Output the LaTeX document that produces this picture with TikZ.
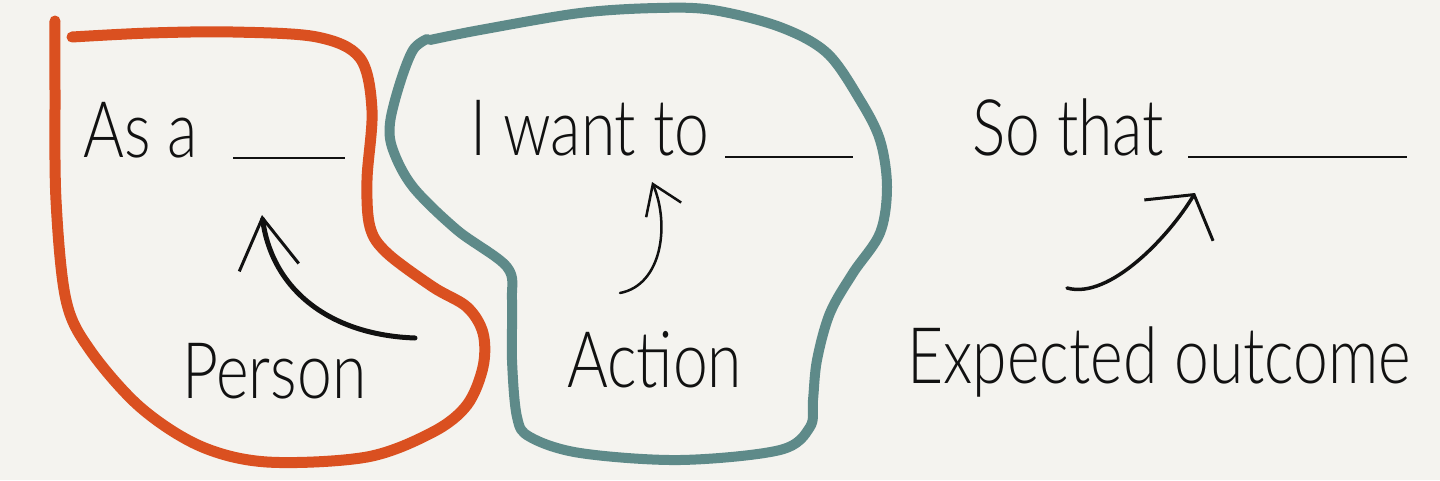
\documentclass[tikz,border=0pt]{standalone}
\usepackage{fontspec}
\setmainfont{Lato}[UprightFont=* Light, FakeStretch=0.8]
\usetikzlibrary{arrows.meta}
\definecolor{paper}{HTML}{F4F3EF}
\definecolor{rust}{HTML}{DA5020}
\definecolor{slate}{HTML}{5E8A89}
\definecolor{ink}{HTML}{111111}
\tikzset{hand/.style={font=\fontsize{78}{88}\selectfont, text=ink, inner sep=0pt, anchor=base west},
  blank/.style={draw=ink, line width=2.5pt},
  blob/.style={line width=11pt, line cap=round, line join=round},
  shaft/.style={draw=ink, line cap=round}}

\begin{document}
\begin{tikzpicture}[x=1pt, y=-1pt]
  \useasboundingbox (0,0) rectangle (1440,480);
  \fill[paper] (0,0) rectangle (1440,480);
  % the two loops
  \draw[blob, rust] plot[smooth, tension=0.55] coordinates {(55,21) (55,90) (56,200) (66,300) (90,350) (140,407) (200,446) (267,462) (367,457) (433,432) (467,405) (483,367) (483,333) (467,307) (433,287) (387,253) (370,227) (367,180) (372,110) (360,58) (317,37) (233,32) (150,33) (72,37)};
  \draw[blob, slate, line width=10pt] plot[smooth, tension=0.55] coordinates {(427,39) (413,50) (400,83) (390,123) (393,150) (413,187) (457,230) (507,267) (512,300) (512,360) (517,417) (530,437) (580,453) (680,460) (780,450) (810,427) (813,400) (817,360) (830,313) (853,273) (880,233) (887,187) (880,140) (860,100) (827,53) (780,27) (713,10) (657,8) (580,13) (480,30) (430,40)};
  % sentence parts
  \node[hand] (asa) at (83,157) {As a};
  \node[hand] (want) at (470,155) {I want to};
  \node[hand] (so) at (972,155) {So that};
  \coordinate (asa-end) at (345,158);
  \coordinate (want-end) at (853,157);
  \coordinate (so-end) at (1407,157);
  \draw[blank] (asa.base east -| 233,0) ++(0,1) -- (asa-end);
  \draw[blank] (want.base east -| 725,0) ++(0,2) -- (want-end);
  \draw[blank] (so.base east -| 1188,0) ++(0,2) -- (so-end);
  % labels
  \node[hand] (person) at (182,398) {Person};
  \node[hand] (action) at (567,387) {Action};
  \node[hand] (outcome) at (907,383) {Expected outcome};
  % arrows
  \coordinate (p-tail) at (415,338);
  \coordinate (p-tip) at (262,215);
  \coordinate (a-tail) at (620,293);
  \coordinate (a-tip) at (652,182);
  \coordinate (o-tail) at (1067,288);
  \coordinate (o-tip) at (1195,193);
  \draw[shaft, line width=5pt, -{Straight Barb[length=50pt, width=60pt, line width=3pt]}] (p-tail) .. controls (330,335) and (272,290) .. (p-tip);
  \draw[shaft, line width=2.5pt, -{Straight Barb[length=28pt, width=38pt, line width=2.5pt]}] (a-tail) .. controls (662,285) and (670,225) .. (a-tip);
  \draw[shaft, line width=3.5pt, -{Straight Barb[length=30pt, width=80pt, line width=3pt]}] (o-tail) .. controls (1110,300) and (1170,235) .. (o-tip);
\end{tikzpicture}
\end{document}
